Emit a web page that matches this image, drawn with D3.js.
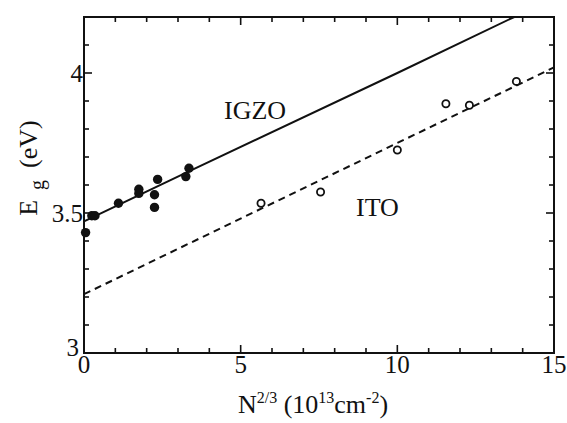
<!DOCTYPE html>
<html>
<head>
<meta charset="utf-8">
<script src="https://cdn.jsdelivr.net/npm/d3@7/dist/d3.min.js"></script>
<style>
  body { margin: 0; background: #fff; }
  svg text { font-family: "Liberation Serif", "DejaVu Serif", serif; fill: #111; }
</style>
</head>
<body>
<div id="chart"></div>
<script>
// IGZO (filled dots)
const igzoX = [0.05, 0.25, 0.35, 1.1, 1.75, 1.75, 2.35, 2.25, 2.25, 3.35, 3.25]
const igzoY = [3.43, 3.49, 3.49, 3.535, 3.585, 3.57, 3.62, 3.565, 3.52, 3.66, 3.63]
// IGZO guide line (solid)
const igzoLineX = [0, 3.33, 10, 13.73]
const igzoLineY = [3.47, 3.648, 4.0, 4.2]

// ITO (open circles)
const itoX = [5.65, 7.55, 10.0, 11.55, 12.3, 13.8]
const itoY = [3.535, 3.575, 3.725, 3.89, 3.885, 3.97]
// ITO guide line (dashed)
const itoLineX = [0, 15]
const itoLineY = [3.21, 4.02]

const xMajor = [0, 5, 10, 15]
const xMinor = d3.range(0, 16, 1)
const yMajor = [3, 3.5, 4]
const yMinor = d3.range(3, 4.21, 0.1)

const width = 567
const height = 423
const plotLeft = 84, plotRight = 554, plotTop = 17, plotBottom = 353

const svg = d3.select('#chart').append('svg')
	.attr('width', width)
	.attr('height', height)

const x = d3.scaleLinear().domain([0, 15]).range([plotLeft, plotRight])
const y = d3.scaleLinear().domain([3, 4.2]).range([plotBottom, plotTop])

const zip = (xs, ys) => xs.map((v, i) => [v, ys[i]])

// ticks, inward on all four sides
const ticks = svg.append('g').attr('stroke', '#111').attr('stroke-width', 1.6)
const tickLen = v => (xMajor.includes(v) ? 8 : 5)
const yTickLen = v => (yMajor.some(m => Math.abs(m - v) < 1e-6) ? 8 : 5)

xMinor.forEach(v => {
	ticks.append('line').attr('x1', x(v)).attr('x2', x(v)).attr('y1', plotBottom).attr('y2', plotBottom - tickLen(v))
	ticks.append('line').attr('x1', x(v)).attr('x2', x(v)).attr('y1', plotTop).attr('y2', plotTop + tickLen(v))
})
yMinor.forEach(v => {
	ticks.append('line').attr('y1', y(v)).attr('y2', y(v)).attr('x1', plotLeft).attr('x2', plotLeft + yTickLen(v))
	ticks.append('line').attr('y1', y(v)).attr('y2', y(v)).attr('x1', plotRight).attr('x2', plotRight - yTickLen(v))
})

// frame
svg.append('rect')
	.attr('x', plotLeft).attr('y', plotTop)
	.attr('width', plotRight - plotLeft).attr('height', plotBottom - plotTop)
	.attr('fill', 'none').attr('stroke', '#111').attr('stroke-width', 2)

// tick labels
svg.append('g').selectAll('text')
	.data(xMajor)
	.enter()
	.append('text')
	.attr('x', d => x(d))
	.attr('y', plotBottom + 20)
	.attr('text-anchor', 'middle')
	.attr('font-size', 25)
	.text(d => d)

svg.append('g').selectAll('text')
	.data(yMajor)
	.enter()
	.append('text')
	.attr('x', d => (d === 3 ? plotLeft - 5 : plotLeft - 1))
	.attr('y', d => (d === 3 ? y(d) + 3 : y(d) + 9))
	.attr('text-anchor', 'end')
	.attr('font-size', 25)
	.text(d => d)

// lines
const line = d3.line().x(d => x(d[0])).y(d => y(d[1]))

svg.append('path')
	.datum(zip(igzoLineX, igzoLineY))
	.attr('d', line)
	.attr('fill', 'none')
	.attr('stroke', '#111')
	.attr('stroke-width', 2)

svg.append('path')
	.datum(zip(itoLineX, itoLineY))
	.attr('d', line)
	.attr('fill', 'none')
	.attr('stroke', '#111')
	.attr('stroke-width', 2)
	.attr('stroke-dasharray', '7,5')

// points
svg.append('g').selectAll('circle')
	.data(zip(igzoX, igzoY))
	.enter()
	.append('circle')
	.attr('cx', d => x(d[0]))
	.attr('cy', d => y(d[1]))
	.attr('r', 4.7)
	.attr('fill', '#111')

svg.append('g').selectAll('circle')
	.data(zip(itoX, itoY))
	.enter()
	.append('circle')
	.attr('cx', d => x(d[0]))
	.attr('cy', d => y(d[1]))
	.attr('r', 3.6)
	.attr('fill', '#fff')
	.attr('stroke', '#111')
	.attr('stroke-width', 1.8)

// series labels
svg.append('text')
	.attr('x', 224).attr('y', 119)
	.attr('font-size', 26)
	.text('IGZO')

svg.append('text')
	.attr('x', 356).attr('y', 216)
	.attr('font-size', 26)
	.text('ITO')

// axis titles
const xt = svg.append('text')
	.attr('x', 313).attr('y', 413)
	.attr('text-anchor', 'middle')
	.attr('font-size', 26)
xt.append('tspan').text('N')
xt.append('tspan').attr('font-size', 16).attr('dy', -10).text('2/3')
xt.append('tspan').attr('dy', 10).text(' (10')
xt.append('tspan').attr('font-size', 16).attr('dy', -10).text('13')
xt.append('tspan').attr('dy', 10).text('cm')
xt.append('tspan').attr('font-size', 16).attr('dy', -10).text('-2')
xt.append('tspan').attr('dy', 10).text(')')

const yt = svg.append('text')
	.attr('transform', 'translate(37,168) rotate(-90)')
	.attr('text-anchor', 'middle')
	.attr('font-size', 26)
yt.append('tspan').text('E')
yt.append('tspan').attr('font-size', 20).attr('dx', 10).attr('dy', 7).text('g')
yt.append('tspan').attr('dx', 12).attr('dy', -7).text('(eV)')
</script>
</body>
</html>
